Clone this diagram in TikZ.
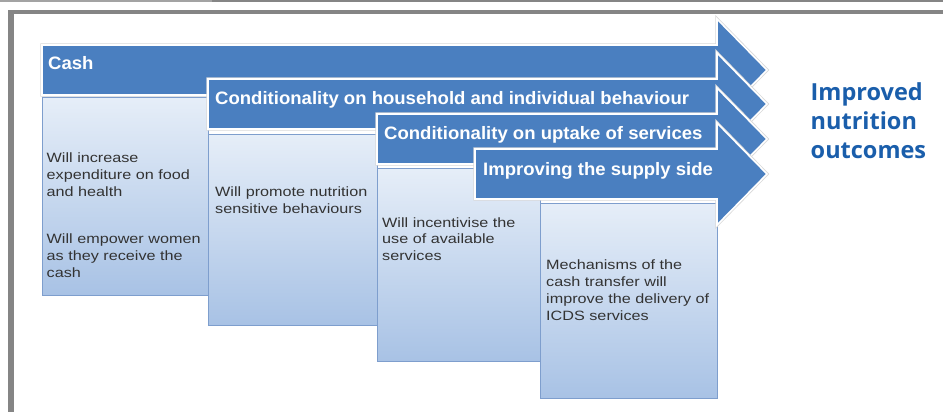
\documentclass[tikz,border=0pt]{standalone}
\usepackage{fontspec}
\newfontfamily\arrowfamily[FakeStretch=1.03]{Liberation Sans}
\newfontfamily\boxfamily[FakeStretch=1.2]{Liberation Sans}
\newfontfamily\outcomefamily{Open Sans}

\definecolor{framegray}{HTML}{858585}
\definecolor{arrowblue}{HTML}{4A7FC0}
\definecolor{boxtop}{HTML}{E6EEF8}
\definecolor{boxbottom}{HTML}{A8C2E5}
\definecolor{boxedge}{HTML}{7E9ECD}
\definecolor{boxtext}{HTML}{333333}
\definecolor{outcomeblue}{HTML}{1A5EAB}

\begin{document}
\begin{tikzpicture}[x=1pt, y=-1pt,
    bluearrow/.style={fill=arrowblue, draw=white, line width=1.6pt,
      line join=miter, preaction={draw=black!15, line width=3.2pt}},
    effectbox/.style={top color=boxtop, bottom color=boxbottom,
      draw=boxedge, line width=0.8pt},
    arrowlabel/.style={anchor=base west, inner sep=0pt, text=white,
      font=\arrowfamily\bfseries\fontsize{18}{20}\selectfont},
    boxlabel/.style={anchor=base west, inner sep=0pt, align=left,
      text=boxtext, font=\boxfamily\fontsize{13.5}{16.8}\selectfont}]
  \useasboundingbox (0, 0) rectangle (943, 412);

  % Frame
  \fill [framegray!75] (0, 0) rectangle (212, 2.5);
  \fill [framegray] (212, 0) rectangle (943, 2.5);
  \fill [framegray] (8, 10) rectangle (943, 14.5);
  \fill [framegray] (8, 10) rectangle (13.5, 412);

  % Cash
  \draw [effectbox] (42, 97) rectangle (208, 295);
  \draw [bluearrow] (42, 45) -- (717, 45) -- (717, 19) -- (767, 70)
        -- (717, 121) -- (717, 95) -- (42, 95) -- cycle;
  \node [arrowlabel] (cash) at (48, 70) {Cash};
  \node [boxlabel] (cashtext) at (46.5, 277)
        {Will increase\\expenditure on food\\and health\\[30.6pt]
         Will empower women\\as they receive the\\cash};

  % Household and individual behaviour
  \draw [effectbox] (208, 134) rectangle (377, 325);
  \draw [bluearrow] (208, 79) -- (717, 79) -- (717, 53) -- (767, 104)
        -- (717, 155) -- (717, 129) -- (208, 129) -- cycle;
  \node [arrowlabel] (household) at (215, 104.5)
        {Conditionality on household and individual behaviour};
  \node [boxlabel] (householdtext) at (215, 213.5)
        {Will promote nutrition\\sensitive behaviours};

  % Uptake of services
  \draw [effectbox] (377, 168) rectangle (540, 361);
  \draw [bluearrow] (377, 114) -- (717, 114) -- (717, 88) -- (767, 139)
        -- (717, 190) -- (717, 164) -- (377, 164) -- cycle;
  \node [arrowlabel] (uptake) at (384, 139.5)
        {Conditionality on uptake of services};
  \node [boxlabel] (uptaketext) at (382, 260.6)
        {Will incentivise the\\use of available\\services};

  % Supply side
  \draw [effectbox] (540, 203) rectangle (717, 398);
  \draw [bluearrow] (475, 149) -- (717, 149) -- (717, 123) -- (767, 174)
        -- (717, 225) -- (717, 199) -- (475, 199) -- cycle;
  \node [arrowlabel] (supply) at (483, 175) {Improving the supply side};
  \node [boxlabel] (supplytext) at (546, 320)
        {Mechanisms of the\\cash transfer will\\improve the delivery of\\ICDS services};

  % Outcome
  \node [anchor=base west, inner sep=0pt, align=left, text=outcomeblue,
         font=\outcomefamily\bfseries\fontsize{23.5}{29}\selectfont]
        (outcome) at (810.5, 158) {Improved\\nutrition\\outcomes};
\end{tikzpicture}
\end{document}
